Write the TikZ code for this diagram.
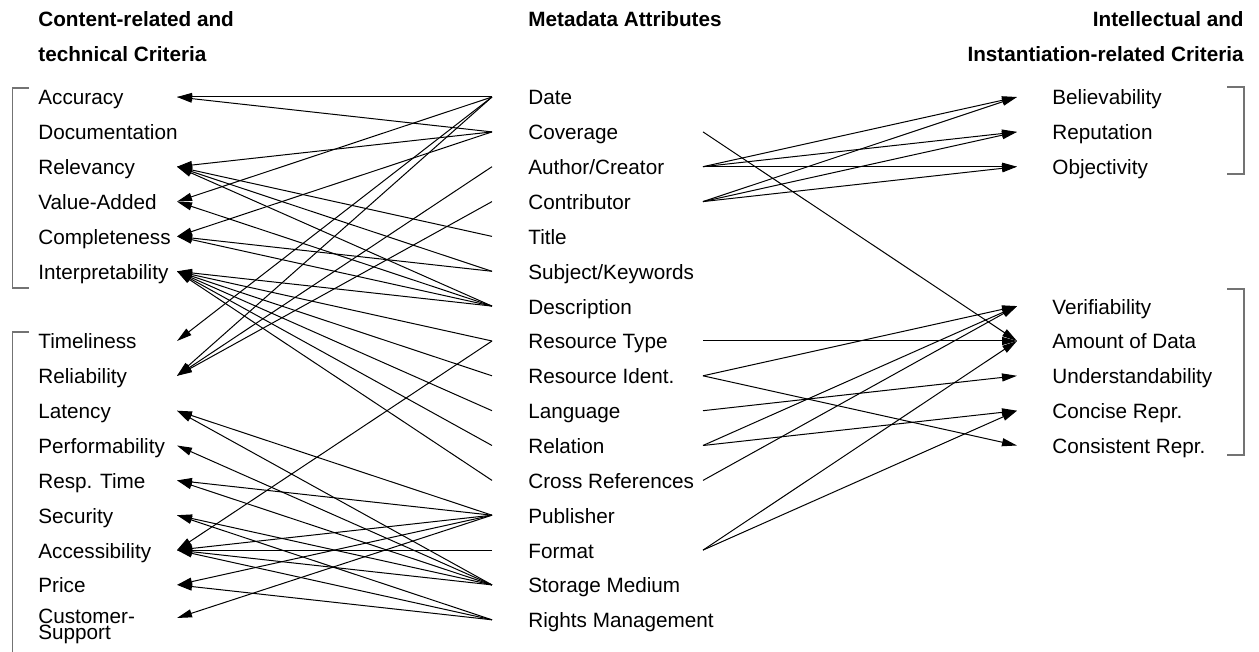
\documentclass[tikz,border=0pt]{standalone}
\usepackage{fontspec}
\setmainfont{Liberation Sans}
\usetikzlibrary{arrows.meta,positioning}
\newcommand{\lblfont}{\fontsize{10.35pt}{12pt}\selectfont}
\newcommand{\tightfont}{\fontsize{10.35pt}{7.6pt}\selectfont
	\setlength{\lineskiplimit}{-5pt}}
\tikzset{
	crit/.style = {anchor=west,inner sep=0pt,text height=8pt,
		text depth=0pt,font=\lblfont},
	meta/.style = {crit},
	crit2/.style= {anchor=north west,inner sep=0pt,align=left,
		font=\tightfont},
	head/.style = {inner sep=0pt,font=\lblfont\bfseries},
	arr/.style  = {-{Triangle[length=7.5pt,width=4pt]},line width=0.5pt},
	brk/.style  = {draw=black!55,line width=0.6pt},
}

\begin{document}
\begin{tikzpicture}[x=0.5pt,y=-0.5pt]
	\useasboundingbox (0,0) rectangle (1259,652);
	
	%% Titres
	\node (hleft)  [head,anchor=base west] at (38,27)   {Content-related and};
	\node (hleft2) [head,anchor=base west] at (38,62)   {technical Criteria};
	\node (hmeta)  [head,anchor=base west] at (528,27)  {Metadata Attributes};
	\node (hright) [head,anchor=base east] at (1244,27) {Intellectual and};
	\node (hright2)[head,anchor=base east] at (1244,62) {Instantiation-related Criteria};
	
	%% Content-related and technical criteria
	\node (acc) [crit] at (38,97)    {Accuracy};
	\node (doc) [crit] at (38,131.9) {Documentation};
	\node (rlv) [crit] at (38,166.7) {Relevancy};
	\node (val) [crit] at (38,201.6) {Value-Added};
	\node (cmp) [crit] at (38,236.4) {Completeness};
	\node (int) [crit] at (38,271.3) {Interpretability};
	\node (tim) [crit] at (38,341)   {Timeliness};
	\node (rlb) [crit] at (38,375.8) {Reliability};
	\node (lat) [crit] at (38,410.7) {Latency};
	\node (prf) [crit] at (38,445.5) {Performability};
	\node (rsp) [crit] at (38,480.4) {Resp. Time};
	\node (sec) [crit] at (38,515.2) {Security};
	\node (acs) [crit] at (38,550.1) {Accessibility};
	\node (prc) [crit] at (38,584.9) {Price};
	\node (cus) [crit2] at (38,609)  {Customer-\\Support};
	
	%% Metadata attributes
	\node (date) [meta] at (528,97)    {Date};
	\node (cov)  [meta] at (528,131.9) {Coverage};
	\node (aut)  [meta] at (528,166.7) {Author/Creator};
	\node (con)  [meta] at (528,201.6) {Contributor};
	\node (tit)  [meta] at (528,236.4) {Title};
	\node (sub)  [meta] at (528,271.3) {Subject/Keywords};
	\node (des)  [meta] at (528,306.1) {Description};
	\node (rty)  [meta] at (528,341)   {Resource Type};
	\node (rid)  [meta] at (528,375.8) {Resource Ident.};
	\node (lng)  [meta] at (528,410.7) {Language};
	\node (rel)  [meta] at (528,445.5) {Relation};
	\node (xrf)  [meta] at (528,480.4) {Cross References};
	\node (pub)  [meta] at (528,515.2) {Publisher};
	\node (fmt)  [meta] at (528,550.1) {Format};
	\node (sto)  [meta] at (528,584.9) {Storage Medium};
	\node (rgt)  [meta] at (528,619.8) {Rights Management};
	
	%% Intellectual and instantiation-related criteria
	\node (bel)  [crit] at (1052,97)    {Believability};
	\node (rep)  [crit] at (1052,131.9) {Reputation};
	\node (obj)  [crit] at (1052,166.7) {Objectivity};
	\node (ver)  [crit] at (1052,306.1) {Verifiability};
	\node (amt)  [crit] at (1052,341)   {Amount of Data};
	\node (und)  [crit] at (1052,375.8) {Understandability};
	\node (cnc)  [crit] at (1052,410.7) {Concise Repr.};
	\node (cst)  [crit] at (1052,445.5) {Consistent Repr.};
	
	%% Points d'accroche
	\foreach \c in {acc,rlv,val,cmp,int,tim,rlb,lat,prf,rsp,sec,acs,prc}
	\coordinate[right=69.5pt of \c.west] (\c-t);
	\coordinate (cus-t) at (177,618);
	\foreach \m in {date,cov,aut,con,tit,sub,des,rty,rid,lng,rel,xrf,pub,fmt,sto,rgt}
	{\coordinate[left=18pt of \m] (\m-l);
		\coordinate[right=87.5pt of \m.west] (\m-r);}
	\foreach \c in {bel,rep,obj,ver,amt,und,cnc,cst}
	\coordinate[left=17.5pt of \c] (\c-t);
	
	%% Fleches vers la gauche
	\foreach \m/\cs in {date/{acc,val,tim,rlb},cov/{acc,rlv,cmp},aut/rlb,
		con/rlb,tit/rlv,sub/{rlv,cmp},des/{rlv,val,cmp,int},rty/{int,acs},
		rid/int,lng/int,rel/int,xrf/int,pub/{lat,rsp,acs,prc,cus},fmt/acs,
		sto/{lat,prf,rsp,sec,acs},rgt/{sec,acs,prc}}
	\foreach \c in \cs \draw[arr] (\m-l)--(\c-t);
	
	%% Fleches vers la droite
	\foreach \m/\cs in {cov/amt,aut/{bel,rep,obj},con/{bel,rep,obj},rty/amt,
		rid/{ver,cst},lng/und,rel/{ver,cnc},xrf/ver,fmt/{amt,cnc}}
	\foreach \c in \cs \draw[arr] (\m-r)--(\c-t);
	
	%% Accolades
	\draw[brk] (29,88)--(12.5,88)--(12.5,288)--(29,288);
	\draw[brk] (29,332)--(12.5,332)--(12.5,660);
	\draw[brk] (1227,87)--(1244,87)--(1244,174)--(1227,174);
	\draw[brk] (1227,289)--(1244,289)--(1244,455)--(1227,455);
\end{tikzpicture}
\end{document}
